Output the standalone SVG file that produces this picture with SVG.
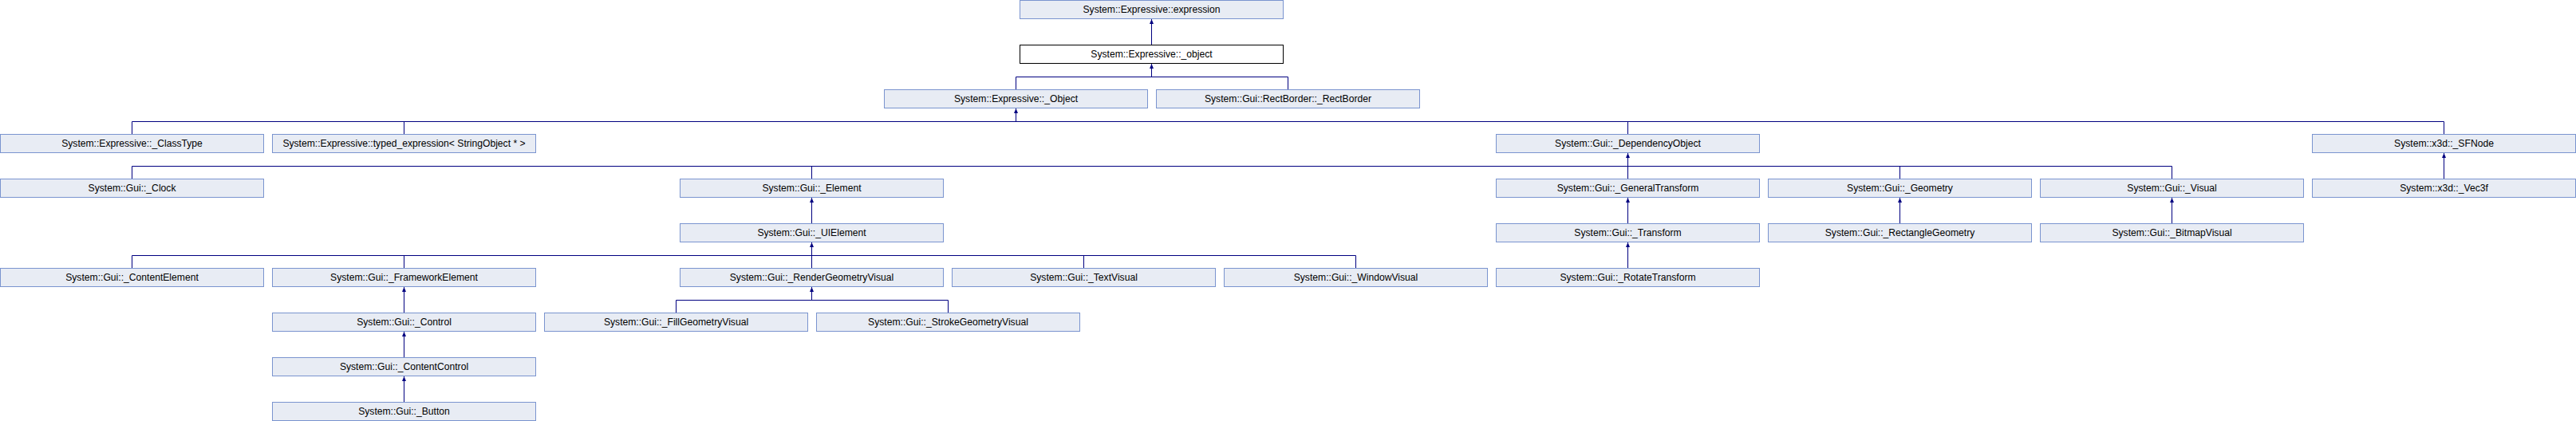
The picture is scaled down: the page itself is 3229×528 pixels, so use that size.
<svg xmlns="http://www.w3.org/2000/svg" width="3229" height="528" viewBox="0 0 3229 528">
<style>
.box{fill:#E8ECF4;stroke:#7A94CF;stroke-width:1}
.cur{fill:#FFFFFF;stroke:#000000;stroke-width:1}
text{font-family:"Liberation Sans",Arial,sans-serif;font-size:13.5px;fill:#000000;text-anchor:middle}
.cn{fill:none;stroke:#000080;stroke-width:1}
.ar{fill:none;stroke:#000080;stroke-width:1;marker-end:url(#arr)}
</style>
<defs>
<marker id="arr" markerUnits="userSpaceOnUse" markerWidth="7" markerHeight="6" refX="6" refY="2.5" orient="auto" viewBox="0 0 7 6">
<path d="M0,0 L6,2.5 L0,5 z" fill="#000080"/>
</marker>
</defs>
<g id="connectors">
<path class="ar" d="M1443.5,56 V24"/>
<path class="cn" d="M1273.5,112 V96.5 H1614.5 V112"/>
<path class="ar" d="M1443.5,96.5 V80"/>
<path class="cn" d="M165.5,168 V152.5 H3063.5 V168 M506.5,152.5 V168 M2040.5,152.5 V168"/>
<path class="ar" d="M1273.5,152.5 V136"/>
<path class="cn" d="M165.5,224 V208.5 H2722.5 V224 M1017.5,208.5 V224 M2381.5,208.5 V224"/>
<path class="ar" d="M2040.5,224 V192"/>
<path class="ar" d="M3063.5,224 V192"/>
<path class="ar" d="M1017.5,280 V248"/>
<path class="ar" d="M2040.5,280 V248"/>
<path class="ar" d="M2381.5,280 V248"/>
<path class="ar" d="M2722.5,280 V248"/>
<path class="cn" d="M165.5,336 V320.5 H1699.5 V336 M506.5,320.5 V336 M1358.5,320.5 V336"/>
<path class="ar" d="M1017.5,336 V304"/>
<path class="ar" d="M2040.5,336 V304"/>
<path class="ar" d="M506.5,392 V360"/>
<path class="cn" d="M847.5,392 V376.5 H1188.5 V392"/>
<path class="ar" d="M1017.5,376.5 V360"/>
<path class="ar" d="M506.5,448 V416"/>
<path class="ar" d="M506.5,504 V472"/>
</g>
<g id="expression" transform="translate(1278,0)"><rect class="box" x="0.5" y="0.5" width="330" height="23"/><text transform="translate(165.5,16) scale(0.9,1)">System::Expressive::expression</text></g>
<g id="_object" transform="translate(1278,56)"><rect class="cur" x="0.5" y="0.5" width="330" height="23"/><text transform="translate(165.5,16) scale(0.9,1)">System::Expressive::_object</text></g>
<g id="_Object" transform="translate(1108,112)"><rect class="box" x="0.5" y="0.5" width="330" height="23"/><text transform="translate(165.5,16) scale(0.9,1)">System::Expressive::_Object</text></g>
<g id="_RectBorder" transform="translate(1449,112)"><rect class="box" x="0.5" y="0.5" width="330" height="23"/><text transform="translate(165.5,16) scale(0.9,1)">System::Gui::RectBorder::_RectBorder</text></g>
<g id="_ClassType" transform="translate(0,168)"><rect class="box" x="0.5" y="0.5" width="330" height="23"/><text transform="translate(165.5,16) scale(0.9,1)">System::Expressive::_ClassType</text></g>
<g id="typed_expression" transform="translate(341,168)"><rect class="box" x="0.5" y="0.5" width="330" height="23"/><text transform="translate(165.5,16) scale(0.9,1)">System::Expressive::typed_expression&lt; StringObject * &gt;</text></g>
<g id="_DependencyObject" transform="translate(1875,168)"><rect class="box" x="0.5" y="0.5" width="330" height="23"/><text transform="translate(165.5,16) scale(0.9,1)">System::Gui::_DependencyObject</text></g>
<g id="_SFNode" transform="translate(2898,168)"><rect class="box" x="0.5" y="0.5" width="330" height="23"/><text transform="translate(165.5,16) scale(0.9,1)">System::x3d::_SFNode</text></g>
<g id="_Clock" transform="translate(0,224)"><rect class="box" x="0.5" y="0.5" width="330" height="23"/><text transform="translate(165.5,16) scale(0.9,1)">System::Gui::_Clock</text></g>
<g id="_Element" transform="translate(852,224)"><rect class="box" x="0.5" y="0.5" width="330" height="23"/><text transform="translate(165.5,16) scale(0.9,1)">System::Gui::_Element</text></g>
<g id="_GeneralTransform" transform="translate(1875,224)"><rect class="box" x="0.5" y="0.5" width="330" height="23"/><text transform="translate(165.5,16) scale(0.9,1)">System::Gui::_GeneralTransform</text></g>
<g id="_Geometry" transform="translate(2216,224)"><rect class="box" x="0.5" y="0.5" width="330" height="23"/><text transform="translate(165.5,16) scale(0.9,1)">System::Gui::_Geometry</text></g>
<g id="_Visual" transform="translate(2557,224)"><rect class="box" x="0.5" y="0.5" width="330" height="23"/><text transform="translate(165.5,16) scale(0.9,1)">System::Gui::_Visual</text></g>
<g id="_Vec3f" transform="translate(2898,224)"><rect class="box" x="0.5" y="0.5" width="330" height="23"/><text transform="translate(165.5,16) scale(0.9,1)">System::x3d::_Vec3f</text></g>
<g id="_UIElement" transform="translate(852,280)"><rect class="box" x="0.5" y="0.5" width="330" height="23"/><text transform="translate(165.5,16) scale(0.9,1)">System::Gui::_UIElement</text></g>
<g id="_Transform" transform="translate(1875,280)"><rect class="box" x="0.5" y="0.5" width="330" height="23"/><text transform="translate(165.5,16) scale(0.9,1)">System::Gui::_Transform</text></g>
<g id="_RectangleGeometry" transform="translate(2216,280)"><rect class="box" x="0.5" y="0.5" width="330" height="23"/><text transform="translate(165.5,16) scale(0.9,1)">System::Gui::_RectangleGeometry</text></g>
<g id="_BitmapVisual" transform="translate(2557,280)"><rect class="box" x="0.5" y="0.5" width="330" height="23"/><text transform="translate(165.5,16) scale(0.9,1)">System::Gui::_BitmapVisual</text></g>
<g id="_ContentElement" transform="translate(0,336)"><rect class="box" x="0.5" y="0.5" width="330" height="23"/><text transform="translate(165.5,16) scale(0.9,1)">System::Gui::_ContentElement</text></g>
<g id="_FrameworkElement" transform="translate(341,336)"><rect class="box" x="0.5" y="0.5" width="330" height="23"/><text transform="translate(165.5,16) scale(0.9,1)">System::Gui::_FrameworkElement</text></g>
<g id="_RenderGeometryVisual" transform="translate(852,336)"><rect class="box" x="0.5" y="0.5" width="330" height="23"/><text transform="translate(165.5,16) scale(0.9,1)">System::Gui::_RenderGeometryVisual</text></g>
<g id="_TextVisual" transform="translate(1193,336)"><rect class="box" x="0.5" y="0.5" width="330" height="23"/><text transform="translate(165.5,16) scale(0.9,1)">System::Gui::_TextVisual</text></g>
<g id="_WindowVisual" transform="translate(1534,336)"><rect class="box" x="0.5" y="0.5" width="330" height="23"/><text transform="translate(165.5,16) scale(0.9,1)">System::Gui::_WindowVisual</text></g>
<g id="_RotateTransform" transform="translate(1875,336)"><rect class="box" x="0.5" y="0.5" width="330" height="23"/><text transform="translate(165.5,16) scale(0.9,1)">System::Gui::_RotateTransform</text></g>
<g id="_Control" transform="translate(341,392)"><rect class="box" x="0.5" y="0.5" width="330" height="23"/><text transform="translate(165.5,16) scale(0.9,1)">System::Gui::_Control</text></g>
<g id="_FillGeometryVisual" transform="translate(682,392)"><rect class="box" x="0.5" y="0.5" width="330" height="23"/><text transform="translate(165.5,16) scale(0.9,1)">System::Gui::_FillGeometryVisual</text></g>
<g id="_StrokeGeometryVisual" transform="translate(1023,392)"><rect class="box" x="0.5" y="0.5" width="330" height="23"/><text transform="translate(165.5,16) scale(0.9,1)">System::Gui::_StrokeGeometryVisual</text></g>
<g id="_ContentControl" transform="translate(341,448)"><rect class="box" x="0.5" y="0.5" width="330" height="23"/><text transform="translate(165.5,16) scale(0.9,1)">System::Gui::_ContentControl</text></g>
<g id="_Button" transform="translate(341,504)"><rect class="box" x="0.5" y="0.5" width="330" height="23"/><text transform="translate(165.5,16) scale(0.9,1)">System::Gui::_Button</text></g>
</svg>
